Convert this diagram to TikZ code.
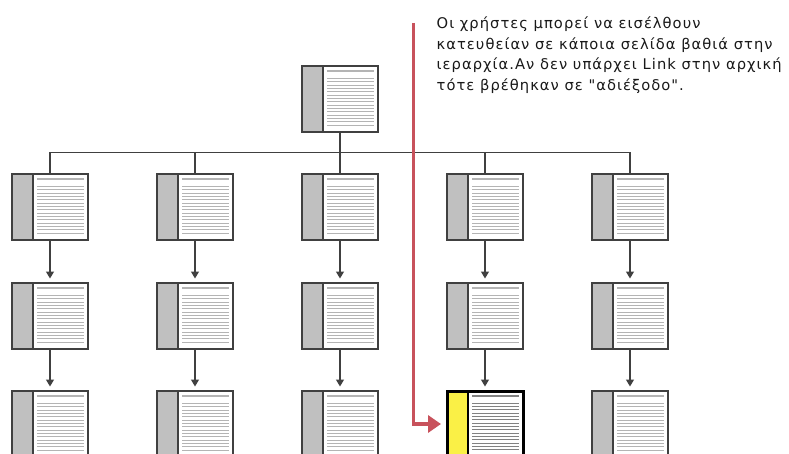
\documentclass[tikz,border=0pt]{standalone}
\usepackage{fontspec}
\newfontfamily\notefont[LetterSpace=7]{DejaVu Sans}
\usetikzlibrary{arrows.meta,calc}

\definecolor{framegray}{RGB}{64,64,64}
\definecolor{sidegray}{RGB}{192,192,192}
\definecolor{rulegray}{RGB}{180,180,180}
\definecolor{hotrule}{RGB}{130,130,130}
\definecolor{hotside}{RGB}{250,240,70}
\definecolor{entryred}{RGB}{200,82,92}
\definecolor{notegray}{RGB}{25,25,25}

\tikzset{
  % a page: shaded margin strip on the left, a heading bar and text rules
  sheet/.style n args={4}{
    path picture={
      \coordinate (pa) at (path picture bounding box.north west);
      \coordinate (pz) at (path picture bounding box.north east);
      \fill[#1] (pa) rectangle ($(path picture bounding box.south west)+(21,0)$);
      \draw[#4, line width=1.5pt] ($(pa)+(21,0)$) -- ($(path picture bounding box.south west)+(21,0)$);
      \draw[#2, line width=1.6pt] ($(pa)+(25,5)$) -- ($(pz)+(-4,5)$);
      \foreach \k in {0,...,14}
        \draw[#2, line width=#3] ($(pa)+(25,12.3+3.33*\k)$) -- ($(pz)+(-4,12.3+3.33*\k)$);
    }},
  pagebox/.style={rectangle, inner sep=0pt, outer sep=0pt, anchor=north west,
    minimum width=76pt, minimum height=66pt, fill=white,
    draw=framegray, line width=1.8pt,
    sheet={sidegray}{rulegray}{0.8pt}{framegray}},
  hotpage/.style={pagebox, draw=black, line width=3pt,
    sheet={hotside}{hotrule}{0.95pt}{black}},
  wire/.style={draw=framegray, line width=1.3pt},
  flow/.style={wire, -{Triangle[length=7pt,width=8pt]}, shorten >=4.5pt},
  entry/.style={draw=entryred, line width=3.5pt,
    -{Triangle[length=13pt,width=17pt]}, shorten >=6pt},
  note/.style={anchor=base west, inner sep=0pt, align=left,
    text=notegray, font=\notefont\fontsize{14.7}{20.5}\selectfont}
}

\begin{document}
\begin{tikzpicture}[x=1pt,y=-1pt]
\path[use as bounding box] (0,0) rectangle (789,454);
\clip (0,0) rectangle (789,454);

% home page
\node[pagebox] (top) at (302,66) {};

% three levels of pages under it
\foreach \c/\lx in {0/12,1/157,2/302,3/447,4/592}{
  \foreach \r/\ty in {1/174,2/283}{
    \node[pagebox] (p-\c-\r) at (\lx,\ty) {};
  }
}
\foreach \c/\lx in {0/12,1/157,2/302,4/592}{
  \node[pagebox] (p-\c-3) at (\lx,391) {};
}
\node[hotpage] (p-3-3) at (447,391) {};

% branching line from the home page
\coordinate (bus) at (0,152.5);
\draw[wire] (top.south) -- (top.south |- bus);
\draw[wire] (p-0-1.north |- bus) -- (p-4-1.north |- bus);
\foreach \c in {0,...,4}{
  \draw[wire] (p-\c-1.north |- bus) -- (p-\c-1.north);
  \draw[flow] (p-\c-1.south) -- (p-\c-2.north);
  \draw[flow] (p-\c-2.south) -- (p-\c-3.north);
}

% direct entry deep into the hierarchy
\coordinate (door) at (413.5,23);
\draw[entry] (door) |- (p-3-3.west);

% the note; its last line sits on the given baseline
\node[note] (msg) at (436.5,90.5) {Οι χρήστες μπορεί να εισέλθουν\\
κατευθείαν σε κάποια σελίδα βαθιά στην\\
ιεραρχία.Αν δεν υπάρχει Link στην αρχική\\
τότε βρέθηκαν σε "αδιέξοδο".};
\end{tikzpicture}
\end{document}
